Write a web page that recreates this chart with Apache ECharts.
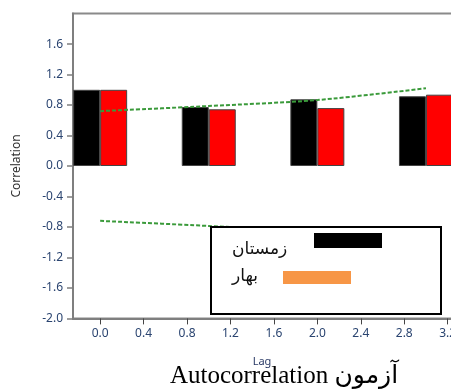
<!DOCTYPE html>
<html>
<head>
<meta charset="utf-8">
<script src="https://cdn.jsdelivr.net/npm/echarts@6/dist/echarts.min.js"></script>
<style>
html,body{margin:0;padding:0;background:#fff;overflow:hidden;}
#c{width:480px;height:390px;}
</style>
</head>
<body>
<div id="c"></div>
<script>
// ---- data ----
var lags = [0, 1, 2, 3];
var winter = [1.0, 0.774, 0.875, 0.915];   // زمستان
var spring = [1.0, 0.744, 0.76, 0.936];    // بهار
var upperConf = [0.72, 0.787, 0.866, 1.02];
var lowerConf = [-0.72, -0.787, -0.866, -1.02];
var xTicks = [0, 0.4, 0.8, 1.2, 1.6, 2.0, 2.4, 2.8, 3.2];
var yTicks = [-2.0, -1.6, -1.2, -0.8, -0.4, 0.0, 0.4, 0.8, 1.2, 1.6];
var seriesNames = ['زمستان', 'بهار'];
var titleText = 'Autocorrelation آزمون';

function pairs(xs, ys) { return xs.map(function (x, i) { return [x, ys[i]]; }); }

var chart = echarts.init(document.getElementById('c'), null, {renderer: 'canvas'});
var labelColor = '#2a4470';
var option = {
  animation: false,
  backgroundColor: '#fff',
  grid: {left: 73, right: 10.6, top: 13.6, bottom: 71.6, show: true,
         borderColor: '#8a8a8a', borderWidth: 2, backgroundColor: 'transparent'},
  xAxis: {
    type: 'value', min: -0.25, max: 3.4,
    axisLine: {show: true, onZero: false, lineStyle: {color: '#7f7f7f', width: 2}},
    axisTick: {show: true, length: 6, customValues: xTicks, lineStyle: {color: '#444', width: 1}},
    axisLabel: {customValues: xTicks, margin: 9, color: labelColor, fontSize: 12,
                fontFamily: 'Noto Sans', formatter: function (v) { return v.toFixed(1); }},
    splitLine: {show: false}
  },
  yAxis: {
    type: 'value', min: -2, max: 2,
    name: 'Correlation', nameLocation: 'middle', nameGap: 50,
    nameTextStyle: {color: '#333', fontSize: 12, fontFamily: 'Noto Sans'},
    axisLine: {show: true, onZero: false, lineStyle: {color: '#7f7f7f', width: 2}},
    axisTick: {show: true, length: 6, customValues: yTicks, lineStyle: {color: '#7f7f7f', width: 1.5}},
    axisLabel: {customValues: yTicks, margin: 10, color: labelColor, fontSize: 12,
                fontFamily: 'Noto Sans', formatter: function (v) { return v.toFixed(1); }},
    splitLine: {show: false}
  },
  series: [
    {name: seriesNames[0], type: 'bar', data: pairs(lags, winter), barWidth: 27, barGap: '0%',
     itemStyle: {color: '#000', borderColor: '#444', borderWidth: 1}, z: 2},
    {name: seriesNames[1], type: 'bar', data: pairs(lags, spring), barWidth: 27, barGap: '0%',
     itemStyle: {color: '#ff0000', borderColor: '#444', borderWidth: 1}, z: 2},
    {type: 'line', data: pairs(lags, upperConf), smooth: 0.3, showSymbol: false, z: 3,
     lineStyle: {color: '#3a9a3a', width: 2, type: [4, 2]}},
    {type: 'line', data: pairs(lags, lowerConf), smooth: 0.3, showSymbol: false, z: 3,
     lineStyle: {color: '#3a9a3a', width: 2, type: [4, 2]}}
  ],
  graphic: [
    {type: 'rect', z: 100, shape: {x: 211, y: 227, width: 230, height: 87},
     style: {fill: '#fff', stroke: '#000', lineWidth: 2}},
    {type: 'text', z: 101, style: {x: 232, y: 250, text: seriesNames[0], fill: '#111',
      font: '17px "DejaVu Sans"', textVerticalAlign: 'middle'}},
    {type: 'rect', z: 101, shape: {x: 314, y: 233, width: 68, height: 15}, style: {fill: '#000'}},
    {type: 'text', z: 101, style: {x: 232, y: 277, text: seriesNames[1], fill: '#111',
      font: '17px "DejaVu Sans"', textVerticalAlign: 'middle'}},
    {type: 'rect', z: 101, shape: {x: 283, y: 271, width: 68, height: 13}, style: {fill: '#f79646'}},
    {type: 'text', z: 101, style: {x: 262, y: 362, text: 'Lag', fill: '#2a3a66',
      font: '11px "Noto Sans"', textAlign: 'center', textVerticalAlign: 'middle'}},
    {type: 'text', z: 101, style: {x: 284, y: 376, text: titleText, fill: '#000',
      font: '25px "Liberation Serif", "DejaVu Sans", serif', textAlign: 'center', textVerticalAlign: 'middle'}}
  ]
};
chart.setOption(option);
</script>
</body>
</html>
